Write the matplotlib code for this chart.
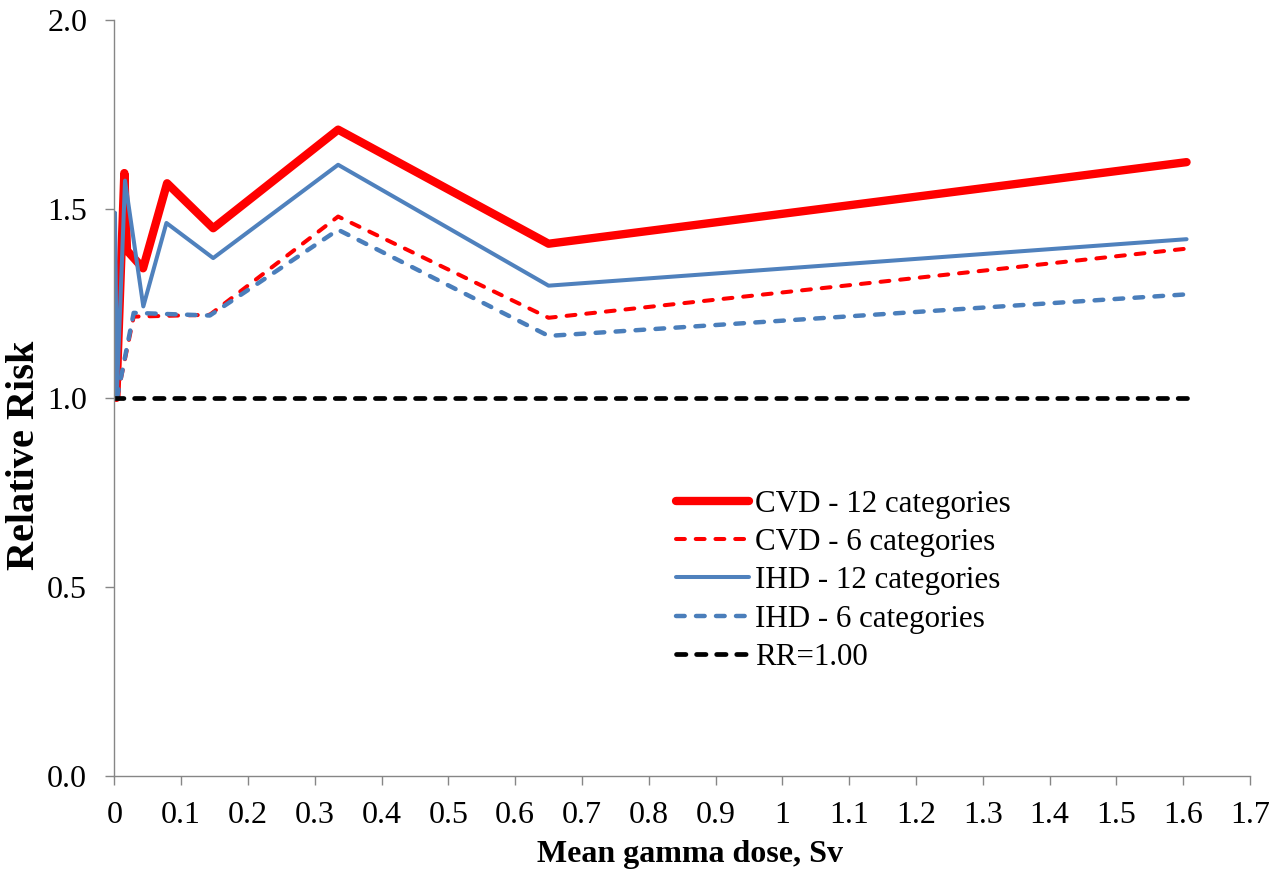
import matplotlib.pyplot as plt
import numpy as np

plt.rcParams['font.family'] = ['Liberation Serif', 'DejaVu Serif']

# CVD - 12 categories
cvd12_dose = [0.003, 0.015, 0.019, 0.043, 0.079, 0.148, 0.335, 0.65, 1.605]
cvd12_rr = [1.00, 1.595, 1.39, 1.343, 1.568, 1.449, 1.71, 1.408, 1.624]

# CVD - 6 categories
cvd6_dose = [0.004, 0.029, 0.143, 0.335, 0.65, 1.605]
cvd6_rr = [1.00, 1.215, 1.22, 1.48, 1.212, 1.395]

# IHD - 12 categories
ihd12_dose = [0.0005, 0.001, 0.004, 0.016, 0.0434, 0.078, 0.148, 0.335, 0.65, 1.605]
ihd12_rr = [1.00, 1.49, 1.02, 1.575, 1.242, 1.463, 1.370, 1.617, 1.297, 1.42]

# IHD - 6 categories
ihd6_dose = [0.004, 0.029, 0.143, 0.335, 0.65, 1.605]
ihd6_rr = [1.00, 1.225, 1.218, 1.445, 1.164, 1.274]

ref_dose = [0.0, 1.605]
ref_rr = [1.0, 1.0]

x_ticks = np.round(np.arange(0, 1.71, 0.1), 1)
y_ticks = [0.0, 0.5, 1.0, 1.5, 2.0]

fig = plt.figure(figsize=(12.83, 8.73), dpi=100)
ax = fig.add_axes([0.0891, 0.1115, 0.8852, 0.8655])

ax.plot(cvd12_dose, cvd12_rr, color='#FF0000', lw=6.0, solid_capstyle='round',
        solid_joinstyle='round', label='CVD - 12 categories')
ax.plot(cvd6_dose, cvd6_rr, color='#FF0000', lw=2.9, dashes=(2.2, 2.7),
        dash_capstyle='round', label='CVD - 6 categories')
ax.plot(ihd12_dose, ihd12_rr, color='#4F81BD', lw=2.9, solid_capstyle='round',
        solid_joinstyle='round', label='IHD - 12 categories')
ax.plot(ihd6_dose, ihd6_rr, color='#4A7EBB', lw=3.2, dashes=(1.95, 2.55),
        dash_capstyle='round', label='IHD - 6 categories')
ax.plot(ref_dose, ref_rr, color='black', lw=3.4, dashes=(2.0, 2.25),
        dash_capstyle='round', label='RR=1.00')

ax.set_xlim(0, 1.7)
ax.set_ylim(0, 2.0)
ax.set_xticks(x_ticks)
ax.set_xticklabels(['%g' % t for t in x_ticks])
ax.set_yticks(y_ticks)
ax.set_yticklabels(['%.1f' % t for t in y_ticks])

for s in ['top', 'right']:
    ax.spines[s].set_visible(False)
for s in ['left', 'bottom']:
    ax.spines[s].set_color('#868686')
    ax.spines[s].set_linewidth(1.0)
ax.tick_params(direction='out', length=6.5, width=1.0, color='#868686',
               labelsize=23)
ax.tick_params(axis='y', pad=13)
ax.tick_params(axis='x', pad=11.5)

ax.set_xlabel('Mean gamma dose, Sv', fontsize=23, fontweight='bold')
ax.xaxis.set_label_coords(0.507, -0.085)
ax.set_ylabel('Relative Risk', fontsize=29, fontweight='bold')
ax.yaxis.set_label_coords(-0.0628, 0.424)

fig.legend(loc='upper left', bbox_to_anchor=(0.527, 0.439), frameon=False,
           fontsize=22.3, handlelength=2.35, handletextpad=0.2, labelspacing=0.3,
           borderpad=0, borderaxespad=0)

fig.savefig('out.png', dpi=100)
